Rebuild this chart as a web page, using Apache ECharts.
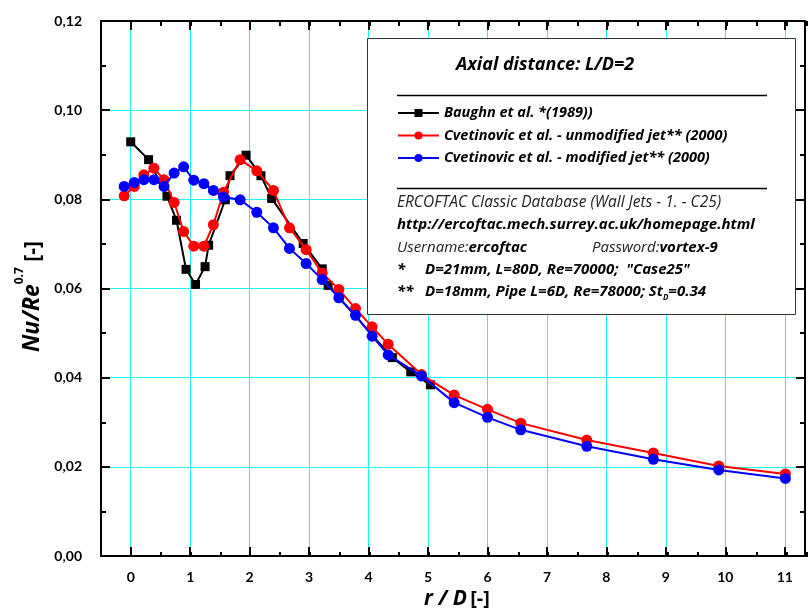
<!DOCTYPE html>
<html>
<head>
<meta charset="utf-8">
<script src="https://cdn.jsdelivr.net/npm/echarts@6/dist/echarts.min.js"></script>
<style>
  html, body { margin: 0; padding: 0; background: #fff; }
  #chart { width: 808px; height: 615px; }
</style>
</head>
<body>
<div id="chart"></div>
<script>
// Baughn et al. (1989) measurements, r/D and Nu/Re^0.7
const baughnX = [0, 0.30, 0.61, 0.77, 0.93, 1.09, 1.25, 1.31, 1.59, 1.67, 1.94, 2.19, 2.37, 2.90, 3.22, 3.32, 4.40, 4.71, 5.04];
const baughnY = [0.0929, 0.0889, 0.0807, 0.0753, 0.0643, 0.0609, 0.0649, 0.0697, 0.0799, 0.0853, 0.0899, 0.0853, 0.0802, 0.0701, 0.0644, 0.0607, 0.0445, 0.0413, 0.0384];

// Cvetinovic et al. (2000) radial stations, shared by both jets
const cvetX = [-0.11, 0.06, 0.22, 0.39, 0.56, 0.73, 0.89, 1.06, 1.23, 1.39, 1.56, 1.84, 2.12, 2.40, 2.67, 2.95, 3.22, 3.50, 3.78, 4.06, 4.33, 4.89, 5.44, 6.00, 6.56, 7.67, 8.79, 9.89, 11.01];
const unmodifiedY = [0.0808, 0.0829, 0.0855, 0.0870, 0.0844, 0.0793, 0.0728, 0.0695, 0.0695, 0.0743, 0.0816, 0.0889, 0.0864, 0.0820, 0.0736, 0.0687, 0.0635, 0.0598, 0.0555, 0.0514, 0.0475, 0.0407, 0.0361, 0.0329, 0.0298, 0.0260, 0.0231, 0.0202, 0.0184];
const modifiedY = [0.0829, 0.0838, 0.0844, 0.0844, 0.0829, 0.0859, 0.0873, 0.0843, 0.0835, 0.0820, 0.0805, 0.0799, 0.0771, 0.0736, 0.0690, 0.0656, 0.0620, 0.0579, 0.0540, 0.0493, 0.0451, 0.0404, 0.0344, 0.0311, 0.0283, 0.0246, 0.0217, 0.0193, 0.0174];

const seriesNames = [
  'Baughn et al. *(1989))',
  'Cvetinovic et al. - unmodified jet** (2000)',
  'Cvetinovic et al. - modified jet** (2000)'
];

const boxTitle = 'Axial distance: L/D=2';
const infoLines = [
  'ERCOFTAC Classic Database (Wall Jets - 1. - C25)',
  'http://ercoftac.mech.surrey.ac.uk/homepage.html'
];

const TICK_FONT = 'Lato';
const FONT = 'Open Sans';
const X_MIN = -0.5, X_MAX = 11.34;
const Y_MIN = 0, Y_MAX = 0.12;
const GRID = { left: 101, right: 1, top: 21, bottom: 58 };
const AXIS_BLACK = { onZero: false, lineStyle: { color: '#000', width: 2 } };
const NO_LINE = { show: false, onZero: false };
const NO_SPLIT = { show: false, lineStyle: { color: 'rgba(0,0,0,0)' } };
const CYAN = '#1ff5f5';

function pairs(xs, ys) { return xs.map((x, i) => [x, ys[i]]); }
const isInt = v => Math.abs(v - Math.round(v)) < 1e-6;

const chart = echarts.init(document.getElementById('chart'), null, { renderer: 'canvas' });

const bigTick = { inside: true, length: 9, lineStyle: { color: '#000', width: 2 } };
const smallTick = { inside: true, length: 5, lineStyle: { color: '#000', width: 2 } };

const option = {
  backgroundColor: '#fff',
  animation: false,
  grid: [
    Object.assign({ containLabel: false }, GRID),
    Object.assign({ containLabel: false, show: false }, GRID)
  ],
  xAxis: [
    // main bottom axis: integer ticks, labels, vertical grid lines
    {
      type: 'value', gridIndex: 0, position: 'bottom', min: X_MIN, max: X_MAX, splitNumber: 12,
      axisLine: AXIS_BLACK, axisTick: bigTick,
      axisLabel: {
        margin: 14, color: '#000', fontFamily: TICK_FONT, fontWeight: 'bold', fontSize: 14,
        formatter: v => isInt(v) ? String(Math.round(v)) : ''
      },
      splitLine: { show: true, lineStyle: { color: CYAN, width: 1 } },
      minorSplitLine: NO_SPLIT, splitArea: { show: false },
      name: '{i|r / D} {n|[-]}', nameLocation: 'middle', nameGap: 33,
      nameTextStyle: {
        padding: [0, 0, 0, 8],
        rich: {
          i: { fontFamily: FONT, fontStyle: 'italic', fontWeight: 'bold', fontSize: 21, color: '#000' },
          n: { fontFamily: FONT, fontWeight: 'bold', fontSize: 20, color: '#000' }
        }
      }
    },
    // main top axis
    {
      type: 'value', gridIndex: 0, position: 'top', min: X_MIN, max: X_MAX, splitNumber: 12,
      axisLine: AXIS_BLACK, axisTick: bigTick,
      axisLabel: { show: false }, splitLine: NO_SPLIT, minorSplitLine: NO_SPLIT, splitArea: { show: false }
    },
    // half-step ticks, bottom
    {
      type: 'value', gridIndex: 1, position: 'bottom', min: X_MIN, max: X_MAX, interval: 0.5,
      axisLine: NO_LINE, axisTick: smallTick,
      axisLabel: { show: false }, splitLine: NO_SPLIT, minorSplitLine: NO_SPLIT, splitArea: { show: false }
    },
    // half-step ticks, top
    {
      type: 'value', gridIndex: 1, position: 'top', min: X_MIN, max: X_MAX, interval: 0.5,
      axisLine: NO_LINE, axisTick: smallTick,
      axisLabel: { show: false }, splitLine: NO_SPLIT, minorSplitLine: NO_SPLIT, splitArea: { show: false }
    }
  ],
  yAxis: [
    {
      type: 'value', gridIndex: 0, position: 'left', min: Y_MIN, max: Y_MAX, interval: 0.02,
      axisLine: AXIS_BLACK, axisTick: bigTick,
      minorTick: { show: true, splitNumber: 2, length: 5, lineStyle: { color: '#000', width: 2 } },
      axisLabel: {
        margin: 19, color: '#000', fontFamily: TICK_FONT, fontWeight: 'bold', fontSize: 14,
        formatter: v => v.toFixed(2).replace('.', ',')
      },
      splitLine: { show: true, lineStyle: { color: CYAN, width: 1 } },
      minorSplitLine: NO_SPLIT, splitArea: { show: false },
      name: '{m|Nu/Re}{s|0.7}{n| [-]}', nameLocation: 'middle', nameGap: 52, nameRotate: 90,
      nameTextStyle: {
        padding: [0, 16, 0, 0],
        rich: {
          m: { fontFamily: FONT, fontStyle: 'italic', fontWeight: 'bold', fontSize: 23, color: '#000', lineHeight: 30, verticalAlign: 'bottom' },
          s: { fontFamily: FONT, fontWeight: 'bold', fontSize: 12, color: '#000', lineHeight: 30, verticalAlign: 'top' },
          n: { fontFamily: FONT, fontWeight: 'bold', fontSize: 21, color: '#000', lineHeight: 30, verticalAlign: 'bottom' }
        }
      }
    },
    {
      type: 'value', gridIndex: 0, position: 'right', min: Y_MIN, max: Y_MAX, interval: 0.02,
      axisLine: AXIS_BLACK, axisTick: bigTick,
      minorTick: { show: true, splitNumber: 2, length: 5, lineStyle: { color: '#000', width: 2 } },
      axisLabel: { show: false }, splitLine: NO_SPLIT, minorSplitLine: NO_SPLIT, splitArea: { show: false }
    },
    {
      type: 'value', gridIndex: 1, min: Y_MIN, max: Y_MAX,
      axisLine: NO_LINE, axisTick: { show: false }, axisLabel: { show: false },
      splitLine: NO_SPLIT, minorSplitLine: NO_SPLIT, splitArea: { show: false }
    }
  ],
  legend: {
    left: 392, top: 100, orient: 'vertical', itemWidth: 41, itemHeight: 10, itemGap: 6.5,
    z: 20,
    textStyle: { fontFamily: FONT, fontStyle: 'italic', fontWeight: 'bold', fontSize: 14.5, color: '#000', lineHeight: 16 },
    data: seriesNames
  },
  series: [
    {
      name: seriesNames[0], type: 'line', xAxisIndex: 0, yAxisIndex: 0, z: 2,
      data: pairs(baughnX, baughnY),
      symbol: 'rect', symbolSize: 9,
      lineStyle: { color: '#000', width: 2 }, itemStyle: { color: '#000' }
    },
    {
      name: seriesNames[1], type: 'line', xAxisIndex: 0, yAxisIndex: 0, z: 3,
      data: pairs(cvetX, unmodifiedY),
      symbol: 'circle', symbolSize: 11,
      lineStyle: { color: '#ff0000', width: 2 }, itemStyle: { color: '#ff0000' }
    },
    {
      name: seriesNames[2], type: 'line', xAxisIndex: 0, yAxisIndex: 0, z: 4,
      data: pairs(cvetX, modifiedY),
      symbol: 'circle', symbolSize: 11,
      lineStyle: { color: '#0000ff', width: 2 }, itemStyle: { color: '#0000ff' }
    }
  ],
  graphic: [
    {
      type: 'rect', z: 10,
      shape: { x: 367.5, y: 38.5, width: 428, height: 276 },
      style: { fill: '#fff', stroke: '#333', lineWidth: 1 }
    },
    {
      type: 'text', z: 11, x: 456, y: 65,
      style: { text: boxTitle, fill: '#000', font: 'italic bold 18px ' + FONT, verticalAlign: 'middle' }
    },
    {
      type: 'line', z: 11, shape: { x1: 397, y1: 95.5, x2: 767, y2: 95.5 },
      style: { stroke: '#000', lineWidth: 1.5 }
    },
    {
      type: 'line', z: 11, shape: { x1: 397, y1: 188.5, x2: 767, y2: 188.5 },
      style: { stroke: '#000', lineWidth: 1.5 }
    },
    {
      type: 'text', z: 11, x: 397, y: 203,
      style: { text: infoLines[0], fill: '#222', font: 'italic 15.5px ' + FONT, verticalAlign: 'middle' }
    },
    {
      type: 'text', z: 11, x: 397, y: 225,
      style: { text: infoLines[1], fill: '#000', font: 'italic bold 15px ' + FONT, verticalAlign: 'middle' }
    },
    {
      type: 'text', z: 11, x: 397, y: 248,
      style: {
        text: '{a|Username:}{b|ercoftac}', verticalAlign: 'middle',
        rich: {
          a: { fontFamily: FONT, fontStyle: 'italic', fontSize: 15, fill: '#222' },
          b: { fontFamily: FONT, fontStyle: 'italic', fontWeight: 'bold', fontSize: 15, fill: '#000' }
        }
      }
    },
    {
      type: 'text', z: 11, x: 592, y: 248,
      style: {
        text: '{a|Password:}{b|vortex-9}', verticalAlign: 'middle',
        rich: {
          a: { fontFamily: FONT, fontStyle: 'italic', fontSize: 15, fill: '#222' },
          b: { fontFamily: FONT, fontStyle: 'italic', fontWeight: 'bold', fontSize: 15, fill: '#000' }
        }
      }
    },
    {
      type: 'text', z: 11, x: 397, y: 270,
      style: { text: '*', fill: '#000', font: 'italic bold 15px ' + FONT, verticalAlign: 'middle' }
    },
    {
      type: 'text', z: 11, x: 425, y: 270,
      style: { text: 'D=21mm, L=80D, Re=70000;  "Case25"', fill: '#000', font: 'italic bold 15px ' + FONT, verticalAlign: 'middle' }
    },
    {
      type: 'text', z: 11, x: 397, y: 292,
      style: { text: '**', fill: '#000', font: 'italic bold 15px ' + FONT, verticalAlign: 'middle' }
    },
    {
      type: 'text', z: 11, x: 425, y: 292,
      style: {
        text: '{a|D=18mm, Pipe L=6D, Re=78000; St}{d|D}{a|=0.34}', verticalAlign: 'middle',
        rich: {
          a: { fontFamily: FONT, fontStyle: 'italic', fontWeight: 'bold', fontSize: 15, fill: '#000', lineHeight: 20, verticalAlign: 'middle' },
          d: { fontFamily: FONT, fontStyle: 'italic', fontWeight: 'bold', fontSize: 8, fill: '#000', lineHeight: 20, verticalAlign: 'bottom' }
        }
      }
    }
  ]
};

chart.setOption(option);
</script>
</body>
</html>
